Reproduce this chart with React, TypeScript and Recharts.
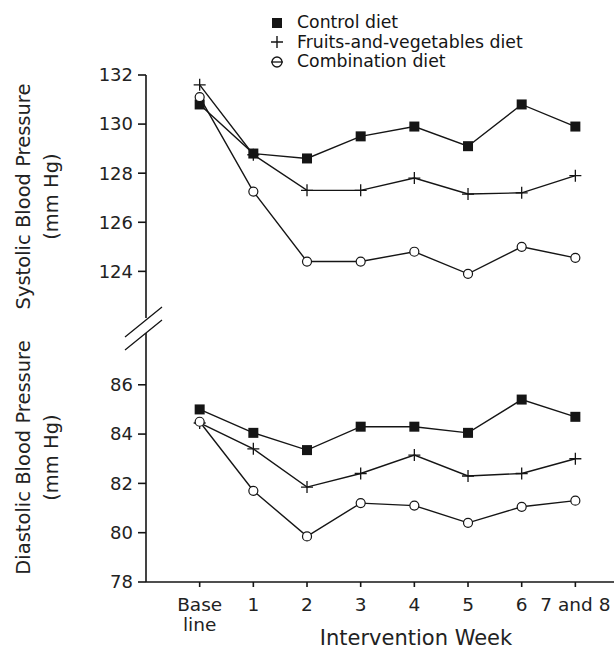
import React from 'react';
import {LineChart, Line, XAxis, YAxis, Legend} from 'recharts';

// week index 0 = baseline, 7 = weeks 7 and 8
const weeks = [0, 1, 2, 3, 4, 5, 6, 7];
const weekLabels = ['Base\nline', '1', '2', '3', '4', '5', '6', '7 and 8'];

const systolicControl = [130.8, 128.8, 128.6, 129.5, 129.9, 129.1, 130.8, 129.9];
const systolicFruitsVeg = [131.6, 128.75, 127.3, 127.3, 127.8, 127.15, 127.2, 127.9];
const systolicCombination = [131.1, 127.25, 124.4, 124.4, 124.8, 123.9, 125.0, 124.55];

const diastolicControl = [85.0, 84.05, 83.35, 84.3, 84.3, 84.05, 85.4, 84.7];
const diastolicFruitsVeg = [84.45, 83.4, 81.85, 82.4, 83.15, 82.3, 82.4, 83.0];
const diastolicCombination = [84.5, 81.7, 79.85, 81.2, 81.1, 80.4, 81.05, 81.3];

const systolicTicks = [124, 126, 128, 130, 132];
const diastolicTicks = [78, 80, 82, 84, 86];

const seriesNames = ['Control diet', 'Fruits-and-vegetables diet', 'Combination diet'];

const systolicData = weeks.map((w, i) => ({
    week: w,
    control: systolicControl[i],
    fruits: systolicFruitsVeg[i],
    combo: systolicCombination[i],
}));
const diastolicData = weeks.map((w, i) => ({
    week: w,
    control: diastolicControl[i],
    fruits: diastolicFruitsVeg[i],
    combo: diastolicCombination[i],
}));

const FONT = '"DejaVu Sans", sans-serif';
const INK = '#151515';
const W = 614;
const H = 651;
const X_DOMAIN = [-1, 7.72];

const SquareDot = (p: any) => (
    <rect key={`sq-${p.index}`} x={p.cx - 5} y={p.cy - 5} width={10} height={10} fill={INK} />
);
const PlusDot = (p: any) => (
    <path key={`pl-${p.index}`}
          d={`M${p.cx - 6},${p.cy} H${p.cx + 6} M${p.cx},${p.cy - 6} V${p.cy + 6}`}
          stroke={INK} strokeWidth={1.3} fill="none" />
);
const CircleDot = (p: any) => (
    <circle key={`ci-${p.index}`} cx={p.cx} cy={p.cy} r={4.5} fill="#fff" stroke={INK} strokeWidth={1.2} />
);

const icons = [
    <rect x={2} y={2} width={10} height={10} fill={INK} />,
    <path d="M1,7 H13 M7,1 V13" stroke={INK} strokeWidth={1.4} fill="none" />,
    <g><circle cx={7} cy={7} r={5} fill="#fff" stroke={INK} strokeWidth={1.3} /><path d="M1,7 H13" stroke={INK} strokeWidth={1.3} /></g>,
];

const LegendBox = () => (
    <div style={{fontFamily: FONT, fontSize: 17.3, lineHeight: '19.5px', color: INK}}>
        {seriesNames.map((name, i) => (
            <div key={name} style={{display: 'flex', alignItems: 'center', whiteSpace: 'nowrap'}}>
                <svg width={14} height={14} style={{marginRight: 13}}>{icons[i]}</svg>
                <span>{name}</span>
            </div>
        ))}
    </div>
);

const yTitle = (line1: string, line2: string) => (props: any) => {
    const vb = props.viewBox;
    const cy = vb.y + vb.height / 2;
    return (
        <g fill="#222" fontSize={19.5} fontFamily={FONT}>
            <text x={23} y={cy} transform={`rotate(-90, 23, ${cy})`} textAnchor="middle" dominantBaseline="central">{line1}</text>
            <text x={51} y={cy} transform={`rotate(-90, 51, ${cy})`} textAnchor="middle" dominantBaseline="central">{line2}</text>
        </g>
    );
};

const WeekTick = (props: any) => {
    const {x, y, payload} = props;
    const lines = weekLabels[payload.value].split('\n');
    return (
        <text x={x} y={y} textAnchor="middle" fill="#222" fontSize={18.5} fontFamily={FONT}>
            {lines.map((l, i) => (
                <tspan key={i} x={x} dy={i === 0 ? 22 : 20}>{l}</tspan>
            ))}
        </text>
    );
};

const lines = () => [
    <Line key="control" name={seriesNames[0]} dataKey="control" stroke={INK} strokeWidth={1.4}
          dot={SquareDot} isAnimationActive={false} />,
    <Line key="fruits" name={seriesNames[1]} dataKey="fruits" stroke={INK} strokeWidth={1.4}
          dot={PlusDot} isAnimationActive={false} />,
    <Line key="combo" name={seriesNames[2]} dataKey="combo" stroke={INK} strokeWidth={1.4}
          dot={CircleDot} isAnimationActive={false} />,
];

const axisLine = {stroke: INK, strokeWidth: 1.6};

const App = () => {
    return (
        <div style={{position: 'absolute', left: 0, top: 0, width: W, height: H, background: '#fff', fontFamily: FONT}}>
            {/* systolic panel */}
            <div style={{position: 'absolute', left: 0, top: 0}}>
                <LineChart width={W} height={H} data={systolicData}
                           margin={{top: 75, right: 0, left: 0, bottom: H - 318}}>
                    <XAxis dataKey="week" type="number" domain={X_DOMAIN} hide allowDataOverflow />
                    <YAxis type="number" domain={[122.1, 132]} ticks={systolicTicks} width={146}
                           allowDataOverflow axisLine={axisLine} tickLine={axisLine} tickSize={8} tickMargin={5}
                           tick={{fill: '#222', fontSize: 18, fontFamily: FONT}}
                           label={{content: yTitle('Systolic Blood Pressure', '(mm Hg)')}} />
                    <Legend layout="vertical" verticalAlign="middle" align="center"
                            content={<LegendBox />}
                            wrapperStyle={{position: 'absolute', top: 13, left: 270, width: 'auto', height: 'auto'}} />
                    {lines()}
                </LineChart>
            </div>
            {/* diastolic panel */}
            <div style={{position: 'absolute', left: 0, top: 0}}>
                <LineChart width={W} height={H} data={diastolicData}
                           margin={{top: 333, right: 0, left: 0, bottom: 0}}>
                    <XAxis dataKey="week" type="number" domain={X_DOMAIN} ticks={weeks} height={H - 582}
                           allowDataOverflow interval={0} axisLine={axisLine} tickLine={axisLine} tickSize={5}
                           tick={<WeekTick />}
                           label={{
                               content: () => (
                                   <text x={416} y={645} textAnchor="middle" fill="#222" fontSize={21}
                                         fontFamily={FONT}>Intervention Week</text>
                               )
                           }} />
                    <YAxis type="number" domain={[78, 88.1]} ticks={diastolicTicks} width={146}
                           allowDataOverflow axisLine={axisLine} tickLine={axisLine} tickSize={8} tickMargin={5}
                           tick={{fill: '#222', fontSize: 18, fontFamily: FONT}}
                           label={{content: yTitle('Diastolic Blood Pressure', '(mm Hg)')}} />
                    {lines()}
                </LineChart>
            </div>
            {/* axis break marks */}
            <svg width={W} height={H} style={{position: 'absolute', left: 0, top: 0, pointerEvents: 'none'}}>
                <path d="M125,337 L162,307 M125,350 L162,320" stroke={INK} strokeWidth={1.3} />
            </svg>
        </div>
    );
};

export default App;
